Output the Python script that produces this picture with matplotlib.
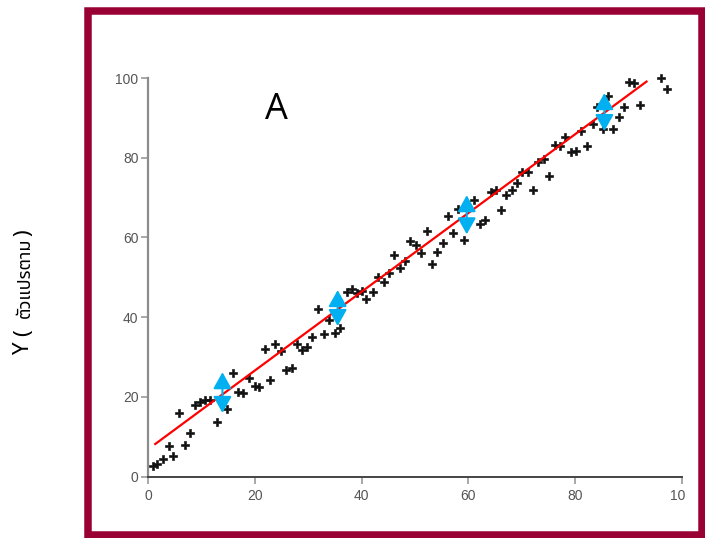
import matplotlib
matplotlib.use('Agg')
import matplotlib.pyplot as plt
from matplotlib.patches import Rectangle
from matplotlib.transforms import Bbox

# scatter data
x_pts = [0.8, 1.6, 2.7, 3.8, 4.7, 5.8, 6.8, 7.8, 8.8, 9.7,
         10.6, 11.6, 12.8, 14.8, 15.8, 16.8, 17.8, 18.8, 20.0, 20.8,
         21.8, 22.8, 23.8, 24.8, 25.9, 26.9, 27.8, 28.9, 29.7, 30.7,
         31.9, 32.9, 33.9, 35.0, 35.9, 37.2, 38.1, 39.1, 40.1, 40.9,
         42.1, 43.1, 44.1, 45.2, 46.1, 47.2, 48.1, 49.1, 50.1, 51.1,
         52.2, 53.1, 54.2, 55.2, 56.1, 57.2, 58.1, 59.2, 61.1, 62.2,
         63.1, 64.3, 65.1, 66.1, 67.1, 68.1, 69.2, 70.1, 71.1, 72.1,
         73.1, 74.1, 75.1, 76.2, 77.2, 78.1, 79.3, 80.2, 81.2, 82.2,
         83.3, 84.1, 85.2, 86.2, 87.2, 88.2, 89.2, 90.2, 91.1, 92.2,
         96.2, 97.2]
y_pts = [2.6, 3.1, 4.4, 7.7, 5.2, 15.9, 8.0, 10.9, 18.0, 18.8,
         19.2, 19.2, 13.7, 17.1, 26.1, 21.3, 21.0, 24.7, 22.7, 22.4,
         32.1, 24.3, 33.4, 31.5, 26.7, 27.3, 33.4, 31.9, 32.5, 35.0,
         42.0, 35.9, 39.3, 36.1, 37.2, 46.3, 47.0, 46.0, 46.5, 44.6,
         46.4, 50.1, 48.9, 51.0, 55.6, 52.4, 54.1, 59.0, 58.2, 56.0,
         61.6, 53.4, 56.3, 58.5, 65.5, 61.2, 67.2, 59.4, 69.3, 63.5,
         64.5, 71.3, 71.8, 66.9, 70.6, 71.9, 73.7, 76.5, 76.3, 72.0,
         78.9, 79.8, 75.3, 83.3, 82.9, 85.1, 81.5, 81.6, 86.8, 82.9,
         88.5, 92.7, 87.2, 95.6, 87.3, 90.1, 92.7, 99.1, 98.7, 93.2,
         100.0, 97.3]

# fitted line ends
line_x = [1.3, 93.4]
line_y = [8.2, 99.1]

# residual arrows
arrow_x = [13.9, 35.5, 59.7, 85.5]
arrow_top = [26.2, 46.8, 70.6, 96.2]
arrow_bottom = [16.0, 37.8, 60.8, 86.7]

ticks = [0, 20, 40, 60, 80, 100]
tick_labels = ['0', '20', '40', '60', '80', '100']

W, H = 705, 538
fig = plt.figure(figsize=(W / 100, H / 100), dpi=100)

ax = fig.add_axes([148.3 / W, (H - 476.7) / H, 533.4 / W, 398.7 / H])
ax.set_xlim(0, 100)
ax.set_ylim(0, 100)

ax.scatter(x_pts, y_pts, marker='P', s=38, color='#111111', edgecolors='#111111',
           linewidths=0.45, clip_on=False, zorder=3)
ax.plot(line_x, line_y, color='#ff0000', lw=1.6, zorder=4)

for xa, yt, yb in zip(arrow_x, arrow_top, arrow_bottom):
    ax.annotate('', xy=(xa, yt), xytext=(xa, yb),
                arrowprops=dict(arrowstyle='<|-|>,head_length=0.5,head_width=0.28',
                                mutation_scale=20, color='#00b0f0', lw=1.5,
                                shrinkA=0, shrinkB=0), zorder=5)

ax.text(24.0, 89.8, 'A', fontsize=26, family=['Open Sans', 'DejaVu Sans'],
        ha='center', va='baseline', color='black')

for s in ['top', 'right']:
    ax.spines[s].set_visible(False)
ax.spines['left'].set_color('#8c8c8c')
ax.spines['left'].set_linewidth(1.6)
ax.spines['bottom'].set_color('#444444')
ax.spines['bottom'].set_linewidth(1.4)

ax.set_xticks(ticks)
ax.set_xticklabels(tick_labels)
ax.set_yticks(ticks)
ax.set_yticklabels(tick_labels)
ax.tick_params(length=5, width=1.2, color='#999999', labelcolor='#555555', labelsize=10)
ax.tick_params(axis='x', pad=4)
ax.tick_params(axis='y', pad=2)
for lab in ax.get_xticklabels() + ax.get_yticklabels():
    lab.set_family(['Liberation Sans', 'DejaVu Sans'])

# the last x label is cut off in the reference
last = ax.xaxis.get_major_ticks()[-1].label1
last.set_clip_box(Bbox.from_extents(0, 0, 685, H))
last.set_clip_on(True)

# y-axis title, rotated, drawn in pieces
thai = ['Noto Sans Thai', 'Noto Sans', 'DejaVu Sans']
base_x = 29.5 / W
kw = dict(rotation=90, rotation_mode='anchor', ha='left', va='baseline', family=thai)
fig.text(base_x, 1 - 355 / H, 'Y', fontsize=16, **kw)
fig.text(base_x, 1 - 336 / H, '(', fontsize=16, **kw)
t_thai = fig.text(base_x, 1 - 318 / H, 'ตัวแปรตาม', fontsize=13, **kw)
fig.canvas.draw()
bb = t_thai.get_window_extent()
fig.text(base_x, (bb.y1 + 2) / H, ')', fontsize=16, **kw)

# maroon frame
fig.patches.append(Rectangle((88.3 / W, 1 - 534.5 / H), (701.5 - 88.3) / W, (534.5 - 11) / H,
                             transform=fig.transFigure, fill=False,
                             edgecolor='#990033', linewidth=5.4))

fig.savefig('out.png', dpi=100)
